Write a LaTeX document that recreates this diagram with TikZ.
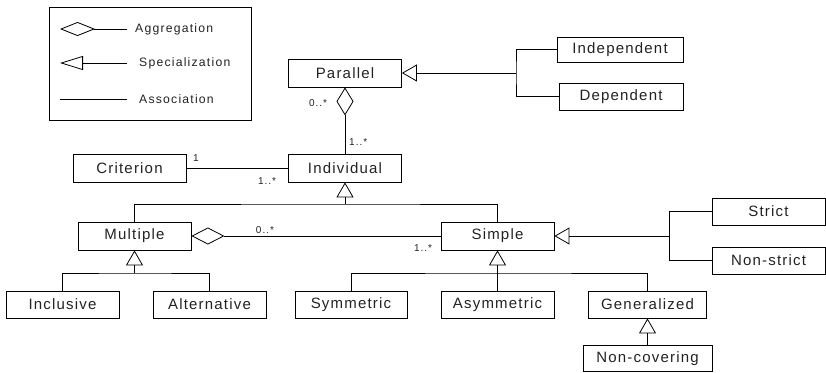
\documentclass[tikz,border=0pt]{standalone}
\usepackage{fontspec}
\setmainfont{Liberation Sans}
\newfontfamily\boxfont{Liberation Sans}[LetterSpace=8]
\newfontfamily\smallfont{Liberation Sans}[LetterSpace=10]
\usetikzlibrary{arrows.meta}
\definecolor{txt}{HTML}{222222}
\tikzset{
  cls/.style={draw, line width=0.8pt, minimum width=113pt, minimum height=28pt, inner sep=0pt,
    font=\boxfont\fontsize{15}{17}\selectfont, text=txt},
  mult/.style={font=\smallfont\fontsize{10}{12}\selectfont, text=txt, inner sep=0pt},
  legtxt/.style={font=\smallfont\fontsize{12.2}{14}\selectfont, text=txt, inner sep=0pt, anchor=west},
  conn/.style={line width=0.8pt},
  spec/.style={conn, -{Triangle[open, length=15pt, width=17pt]}},
  aggr/.style={conn, {Diamond[open, length=#1, width=17pt]}-},
}
\begin{document}
\begin{tikzpicture}[x=1pt, y=-1pt]
\useasboundingbox (0,0) rectangle (826,372);
% legend
\node[draw, line width=0.8pt, minimum width=202pt, minimum height=113pt, inner sep=0pt] (legend) at (150,63.5) {};
\coordinate (la1) at (60,29); \coordinate (la2) at (127,29);
\coordinate (ls1) at (60,63); \coordinate (ls2) at (127,63);
\coordinate (lc1) at (60,99); \coordinate (lc2) at (127,99);
\draw[conn, {Diamond[open, length=35pt, width=14pt]}-] (la1) -- (la2);
\draw[conn, {Triangle[open, length=23pt, width=14pt]}-] (ls1) -- (ls2);
\draw[conn] (lc1) -- (lc2);
\node[legtxt] (lta) at (135,29) {Aggregation};
\node[legtxt] (lts) at (139,63) {Specialization};
\node[legtxt] (ltc) at (139,99) {Association};
% classes
\node[cls] (Parallel) at (345,73) {Parallel};
\node[cls, minimum width=126pt, minimum height=25pt] (Independent) at (620,49.5) {Independent};
\node[cls, minimum width=124pt, minimum height=27pt] (Dependent) at (621,96.5) {Dependent};
\node[cls] (Individual) at (345,168) {Individual};
\node[cls] (Criterion) at (129.5,168) {Criterion};
\node[cls] (Multiple) at (134.5,236) {Multiple};
\node[cls] (Simple) at (497.5,236) {Simple};
\node[cls, minimum height=27pt] (Strict) at (768.5,211.5) {Strict};
\node[cls, minimum height=27pt] (NonStrict) at (768.5,260.5) {Non-strict};
\node[cls, minimum height=27pt] (Inclusive) at (62.5,304.5) {Inclusive};
\node[cls, minimum height=27pt] (Alternative) at (209.5,304.5) {Alternative};
\node[cls, minimum width=112pt, minimum height=27pt] (Symmetric) at (351,304.5) {Symmetric};
\node[cls, minimum height=27pt] (Asymmetric) at (497.5,304.5) {Asymmetric};
\node[cls, minimum width=118pt, minimum height=27pt] (Generalized) at (647.5,304.5) {Generalized};
\node[cls, minimum width=129pt, minimum height=26pt] (NonCovering) at (647.5,358.5) {Non-covering};
% junctions
\coordinate (jP) at (516,73);
\coordinate (jI) at (345,204);
\coordinate (jS) at (669,236);
\coordinate (jM) at (134.5,273);
\coordinate (jSb) at (497.5,273);
% connectors
\draw[conn] (Independent.west) -| (jP) |- (Dependent.west);
\draw[spec] (jP) -- (Parallel.east);
\draw[aggr=28pt] (Parallel.south) -- (Individual.north);
\draw[conn] (Criterion.east) -- (Individual.west);
\draw[conn] (Multiple.north) |- (jI) -| (Simple.north);
\draw[spec] (jI) -- (Individual.south);
\draw[aggr=33pt] (Multiple.east) -- (Simple.west);
\draw[conn] (Strict.west) -| (jS) |- (NonStrict.west);
\draw[spec] (jS) -- (Simple.east);
\draw[conn] (Inclusive.north) |- (jM) -| (Alternative.north);
\draw[spec] (jM) -- (Multiple.south);
\draw[conn] (Symmetric.north) |- (jSb) -| (Generalized.north);
\draw[spec] (Asymmetric.north) -- (Simple.south);
\draw[spec] (NonCovering.north) -- (Generalized.south);
% multiplicities
\node[mult] (m1) at (318,103) {0..*};
\node[mult, anchor=west] (m2) at (349,142) {1..*};
\node[mult] (m3) at (196,158) {1};
\node[mult] (m4) at (267,181) {1..*};
\node[mult] (m5) at (265,230) {0..*};
\node[mult] (m6) at (423,248) {1..*};
\end{tikzpicture}
\end{document}
